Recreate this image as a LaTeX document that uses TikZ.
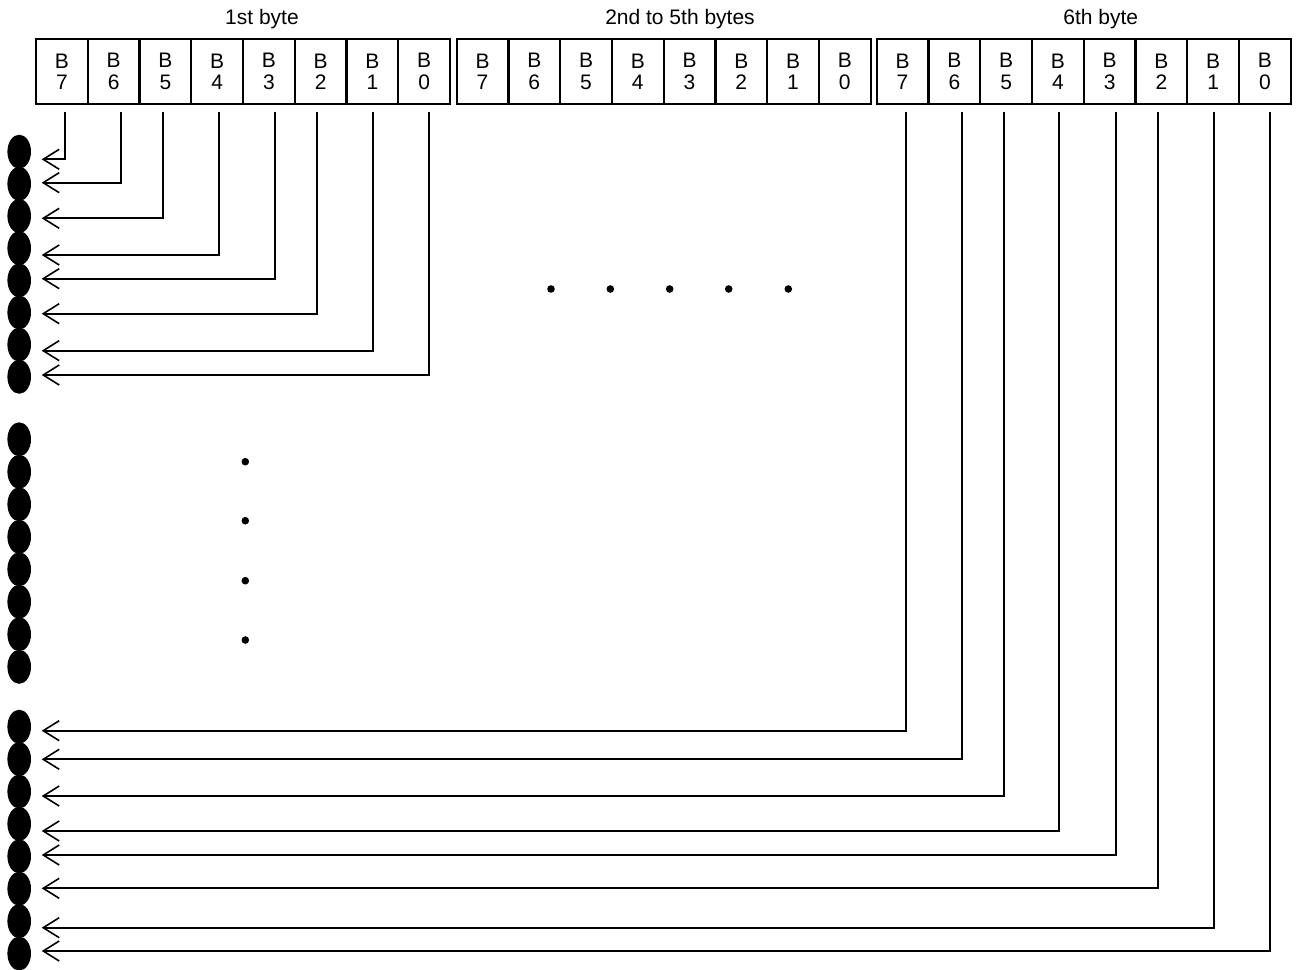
\documentclass[tikz,border=0pt]{standalone}
\usepackage{fontspec}
\setmainfont{Liberation Sans}
\usetikzlibrary{arrows.meta,shapes.geometric}
\tikzset{
  bitcell/.style={draw, line width=2.1pt, rectangle, minimum width=51.75pt, minimum height=64.7pt, inner sep=0pt, align=center, font=\fontsize{21}{21.6}\selectfont},
  bytelabel/.style={inner sep=0pt, font=\fontsize{21}{21.6}\selectfont},
  blob/.style={ellipse, fill=black, draw=none, minimum width=23.6pt, minimum height=34pt, inner sep=0pt},
  smalldot/.style={circle, fill=black, draw=none, minimum size=7.6pt, inner sep=0pt},
  conn/.style={line width=2pt, line join=miter, -{Straight Barb[length=16pt,width=20pt,line width=1.6pt]}},
}
\begin{document}
\begin{tikzpicture}[x=1pt,y=-1pt]
\path[use as bounding box] (0,0) rectangle (1297,969);
% byte labels
\node[bytelabel] (l1) at (262,19) {1st byte};
\node[bytelabel] (l2) at (680,19.5) {2nd to 5th bytes};
\node[bytelabel] (l3) at (1100.7,19) {6th byte};
% bit cells
\foreach \g/\left in {1/36, 2/456.7, 3/876.7} {
  \foreach \k/\b in {0/7,1/6,2/5,3/4,4/3,5/2,6/1,7/0} {
    \node[bitcell] (c\g-\k) at ({\left+51.75*(\k+0.5)},71.65) {B\\\b};
  }
}
% blobs
\foreach \i in {0,...,7} {
  \node[blob] (ea\i) at (19.2,{151.7+32.15*\i}) {};
  \node[blob] (eb\i) at (19.2,{439.3+32.5*\i}) {};
  \node[blob] (ec\i) at (19.2,{726.7+32.4*\i}) {};
}
% connectors from 1st byte
\foreach \k/\dx/\y in {0/3.1/159.3, 1/7.1/182.7, 2/-2.7/218.3, 3/1.9/255, 4/6.1/278.7, 5/-3.9/313.7, 6/0.3/350.7, 7/4.9/375} {
  \coordinate (ta\k) at (41.7,\y);
  \draw[conn] ([xshift=\dx pt, yshift=-6.7pt]c1-\k.south) |- (ta\k);
}
% connectors from 6th byte
\foreach \k/\dx/\y in {0/3.1/730.7, 1/7.4/759.3, 2/-2.1/796, 3/1.5/831, 4/6.1/855, 5/-3.6/888.3, 6/0.9/927.7, 7/4.9/951} {
  \coordinate (tc\k) at (41.7,\y);
  \draw[conn] ([xshift=\dx pt, yshift=-6.7pt]c3-\k.south) |- (tc\k);
}
% ellipsis dots
\foreach \x [count=\n] in {551,610.3,669.7,728.7,788.3} {
  \node[smalldot] (hd\n) at (\x,289) {};
}
\foreach \y [count=\n] in {461.7,520.7,580.7,640} {
  \node[smalldot] (vd\n) at (245.3,\y) {};
}
\end{tikzpicture}
\end{document}
